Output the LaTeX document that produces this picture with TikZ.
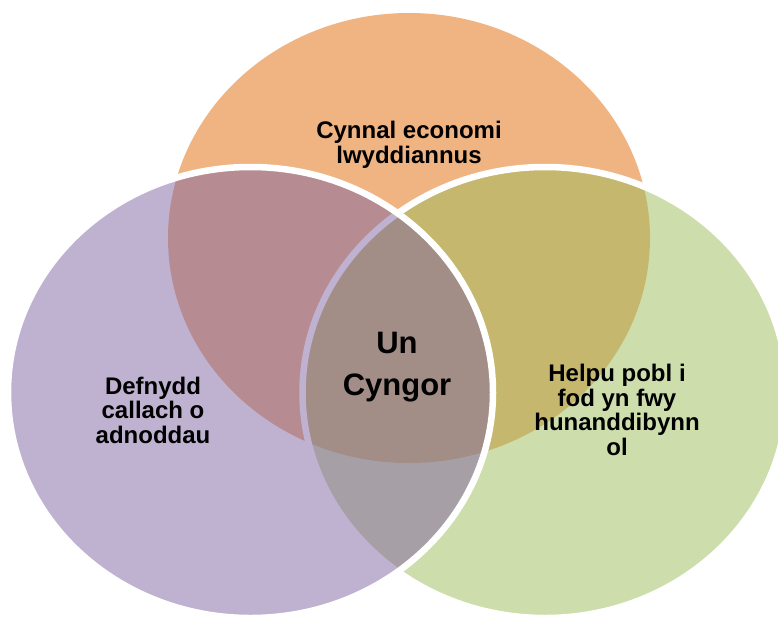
\documentclass[tikz,border=0pt]{standalone}
\usepackage{fontspec}
\setmainfont{Liberation Sans}
\definecolor{orng}{RGB}{240,180,130}
\definecolor{grn}{RGB}{155,187,89}
\definecolor{purp}{RGB}{128,100,162}
\begin{document}
\begin{tikzpicture}[x=1pt, y=-1pt,
		set/.style={draw=white, line width=6.5pt, fill opacity=0.5},
		lbl/.style={align=center, text=black, font=\bfseries\fontsize{24}{24.5}\selectfont}]
		\useasboundingbox (0,0) rectangle (778,616);
		\clip (0,0) rectangle (778,616);
		
		\fill[orng] (409,238) ellipse [x radius=241, y radius=225];
		\filldraw[set, fill=grn] (545,392.5) ellipse [x radius=242.5, y radius=225.5];
		\filldraw[set, fill=purp] (250.5,392.5) ellipse [x radius=242.5, y radius=225.5];
		
		\node[lbl] (eco) at (409,145) {Cynnal economi\\lwyddiannus};
		\node[lbl] (res) at (153,410) {Defnydd\\callach o\\adnoddau};
		\node[lbl] (ind) at (617,410) {Helpu pobl i\\fod yn fwy\\hunanddibynn\\ol};
		\node[lbl, font=\bfseries\fontsize{31}{42}\selectfont] (one) at (397,367) {Un\\Cyngor};
		
		\end{tikzpicture}
\end{document}
